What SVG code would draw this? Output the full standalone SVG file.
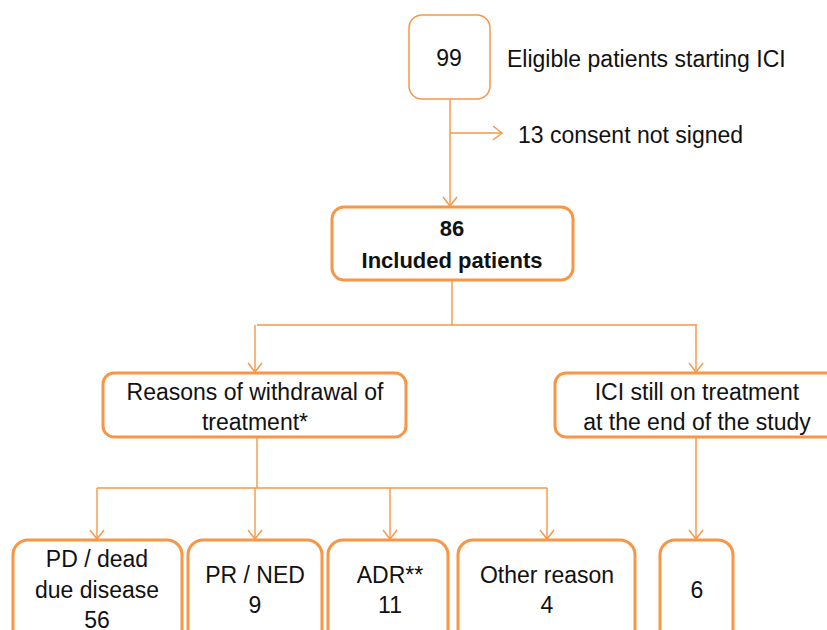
<svg xmlns="http://www.w3.org/2000/svg" width="827" height="630" viewBox="0 0 827 630">
<defs>
<style>
.box{fill:#fff;stroke:#F79646;stroke-width:3}
.thin{stroke-width:1.5}
.con{fill:none;stroke:#F79646;stroke-width:1.4}
text{font-family:"Liberation Sans",Arial,sans-serif;font-size:23px;fill:#111}
.c{text-anchor:middle}
.b{font-weight:bold;font-size:22px}
</style>
<marker id="arr" viewBox="-10 -8 12 16" markerWidth="12" markerHeight="16" refX="0" refY="0" orient="auto" markerUnits="userSpaceOnUse">
<path d="M-9,-7 L0,0 L-9,7" fill="none" stroke="#F79646" stroke-width="1.4"/>
</marker>
</defs>
<rect width="827" height="630" fill="#fff"/>
<g id="connectors">
<path class="con" d="M450,99 V206" marker-end="url(#arr)"/>
<path class="con" d="M450,133 H502" marker-end="url(#arr)"/>
<path class="con" d="M452,281 V325"/>
<path class="con" d="M257,325 H697"/>
<path class="con" d="M255,325 V372" marker-end="url(#arr)"/>
<path class="con" d="M696,325 V372" marker-end="url(#arr)"/>
<path class="con" d="M257,438 V488"/>
<path class="con" d="M97,488 H547"/>
<path class="con" d="M97,488 V539" marker-end="url(#arr)"/>
<path class="con" d="M255,488 V539" marker-end="url(#arr)"/>
<path class="con" d="M390,488 V539" marker-end="url(#arr)"/>
<path class="con" d="M547,488 V539" marker-end="url(#arr)"/>
<path class="con" d="M696,438 V539" marker-end="url(#arr)"/>
</g>
<g id="n99">
<rect class="box thin" x="409" y="15" width="81" height="84" rx="13"/>
<text class="c" x="449" y="66">99</text>
</g>
<g id="eligible">
<text x="507" y="67">Eligible patients starting ICI</text>
</g>
<g id="consent">
<text x="518" y="143">13 consent not signed</text>
</g>
<g id="n86">
<rect class="box" x="332" y="207" width="241" height="73" rx="12"/>
<text class="c b" x="452" y="236">86</text>
<text class="c b" x="452" y="268">Included patients</text>
</g>
<g id="reasons">
<rect class="box" x="103" y="373" width="303" height="64" rx="11"/>
<text class="c" x="255" y="400">Reasons of withdrawal of</text>
<text class="c" x="255" y="430">treatment*</text>
</g>
<g id="still">
<rect class="box" x="555" y="373" width="290" height="64" rx="11"/>
<text class="c" x="697" y="400">ICI still on treatment</text>
<text class="c" x="697" y="430">at the end of the study</text>
</g>
<g id="pd">
<rect class="box" x="13" y="540" width="169" height="110" rx="15"/>
<text class="c" x="97" y="567">PD / dead</text>
<text class="c" x="97" y="598">due disease</text>
<text class="c" x="97" y="628">56</text>
</g>
<g id="pr">
<rect class="box" x="188" y="540" width="134" height="110" rx="15"/>
<text class="c" x="255" y="583">PR / NED</text>
<text class="c" x="255" y="613">9</text>
</g>
<g id="adr">
<rect class="box" x="328" y="540" width="120" height="110" rx="15"/>
<text class="c" x="390" y="583">ADR**</text>
<text class="c" x="390" y="613">11</text>
</g>
<g id="other">
<rect class="box" x="458" y="540" width="177" height="110" rx="15"/>
<text class="c" x="547" y="583">Other reason</text>
<text class="c" x="547" y="613">4</text>
</g>
<g id="six">
<rect class="box" x="660" y="540" width="73" height="110" rx="15"/>
<text class="c" x="697" y="598">6</text>
</g>
</svg>
